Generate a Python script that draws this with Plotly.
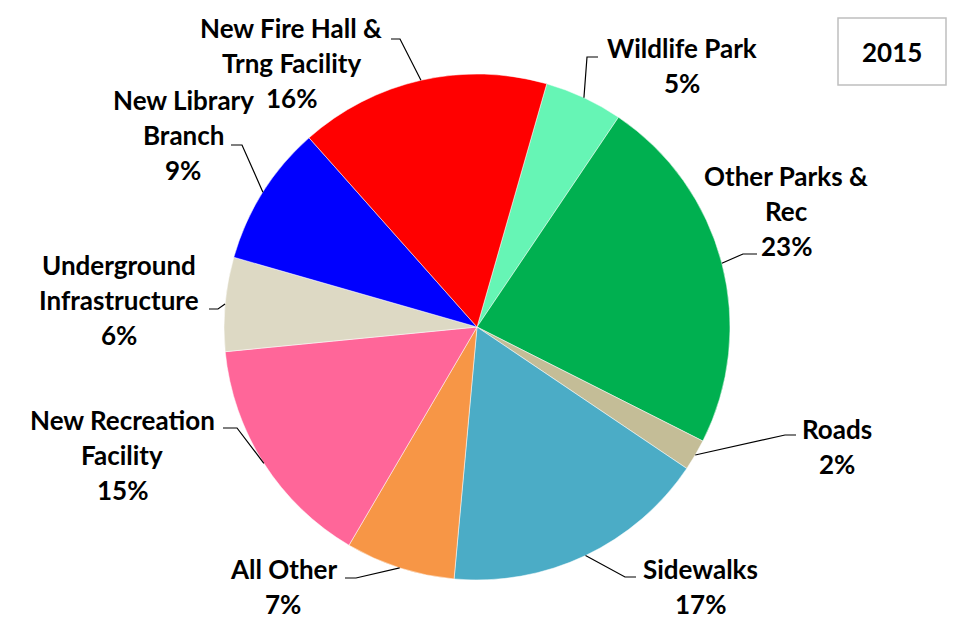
import math
import plotly.graph_objects as go

# ---- data ----
categories = ["Wildlife Park", "Other Parks & Rec", "Roads", "Sidewalks", "All Other",
              "New Recreation Facility", "Underground Infrastructure",
              "New Library Branch", "New Fire Hall & Trng Facility"]
shares = [5, 23, 2, 17, 7, 15, 6, 9, 16]
year_label = "2015"

# ---- styles / layout ----
colors = ["#66F5B5", "#00B050", "#C4BD97", "#4BACC6", "#F79646",
          "#FF6699", "#DDD9C4", "#0000FF", "#FF0000"]
label_lines = [["Wildlife Park"], ["Other Parks &", "Rec"], ["Roads"], ["Sidewalks"],
               ["All Other"], ["New Recreation", "Facility"], ["Underground", "Infrastructure"],
               ["New Library", "Branch"], ["New Fire Hall &", "Trng Facility"]]
# label center x and first-line y (pixels)
label_pos = [(682, 48), (786, 176), (837, 429), (700, 569), (283, 569),
             (122, 420), (119, 265), (183, 100), (291, 28)]
# elbow: (end x at label, elbow x, y)
elbows = [(598, 587, 57), (757, 743, 254), (796, 785, 435), (636, 625, 577), (345, 356, 578),
          (223, 237, 428), (209, 218, 309), (231, 242, 145), (391, 400, 39)]

W, H = 956, 620
CX, CY, R = 477, 327, 253
ROT = 16
LINE_H = 35
FONT = "Lato"
FS = 26


def px(x):
    return x / W


def py(y):
    return 1 - y / H


fig = go.Figure(go.Pie(
    labels=categories, values=shares, sort=False, direction="clockwise", rotation=ROT,
    marker=dict(colors=colors, line=dict(color="white", width=0.5)),
    textinfo="none", hoverinfo="label+percent", showlegend=False,
    domain=dict(x=[px(CX - R), px(CX + R)], y=[py(CY + R), py(CY - R)]),
))

total = sum(shares)
annotations = []
shapes = []
cum = 0
for i, v in enumerate(shares):
    mid = ROT + (cum + v / 2) / total * 360
    cum += v
    ex = CX + R * math.sin(math.radians(mid))
    ey = CY - R * math.cos(math.radians(mid))
    lx, ly = label_pos[i]
    lines = label_lines[i] + [f"{round(v / total * 100)}%"]
    for k, t in enumerate(lines):
        annotations.append(dict(
            x=px(lx), y=py(ly + k * LINE_H), xref="paper", yref="paper",
            text=f"<b>{t}</b>", showarrow=False, xanchor="center", yanchor="middle",
            font=dict(family=FONT, size=FS, color="black")))
    x0, x1, yy = elbows[i]
    shapes.append(dict(
        type="path", xref="paper", yref="paper",
        path=f"M {px(x0)} {py(yy)} L {px(x1)} {py(yy)} L {px(ex)} {py(ey)}",
        line=dict(color="black", width=1.2)))

# year box
shapes.append(dict(type="rect", xref="paper", yref="paper",
                   x0=px(838), x1=px(946), y0=py(85), y1=py(18),
                   line=dict(color="#BFBFBF", width=1.5), fillcolor="white"))
annotations.append(dict(x=px(892), y=py(52), xref="paper", yref="paper",
                        text=f"<b>{year_label}</b>", showarrow=False,
                        xanchor="center", yanchor="middle",
                        font=dict(family=FONT, size=FS, color="black")))

fig.update_layout(
    width=W, height=H, margin=dict(l=0, r=0, t=0, b=0),
    paper_bgcolor="white", plot_bgcolor="white",
    annotations=annotations, shapes=shapes,
)

fig.write_html("out.html")
